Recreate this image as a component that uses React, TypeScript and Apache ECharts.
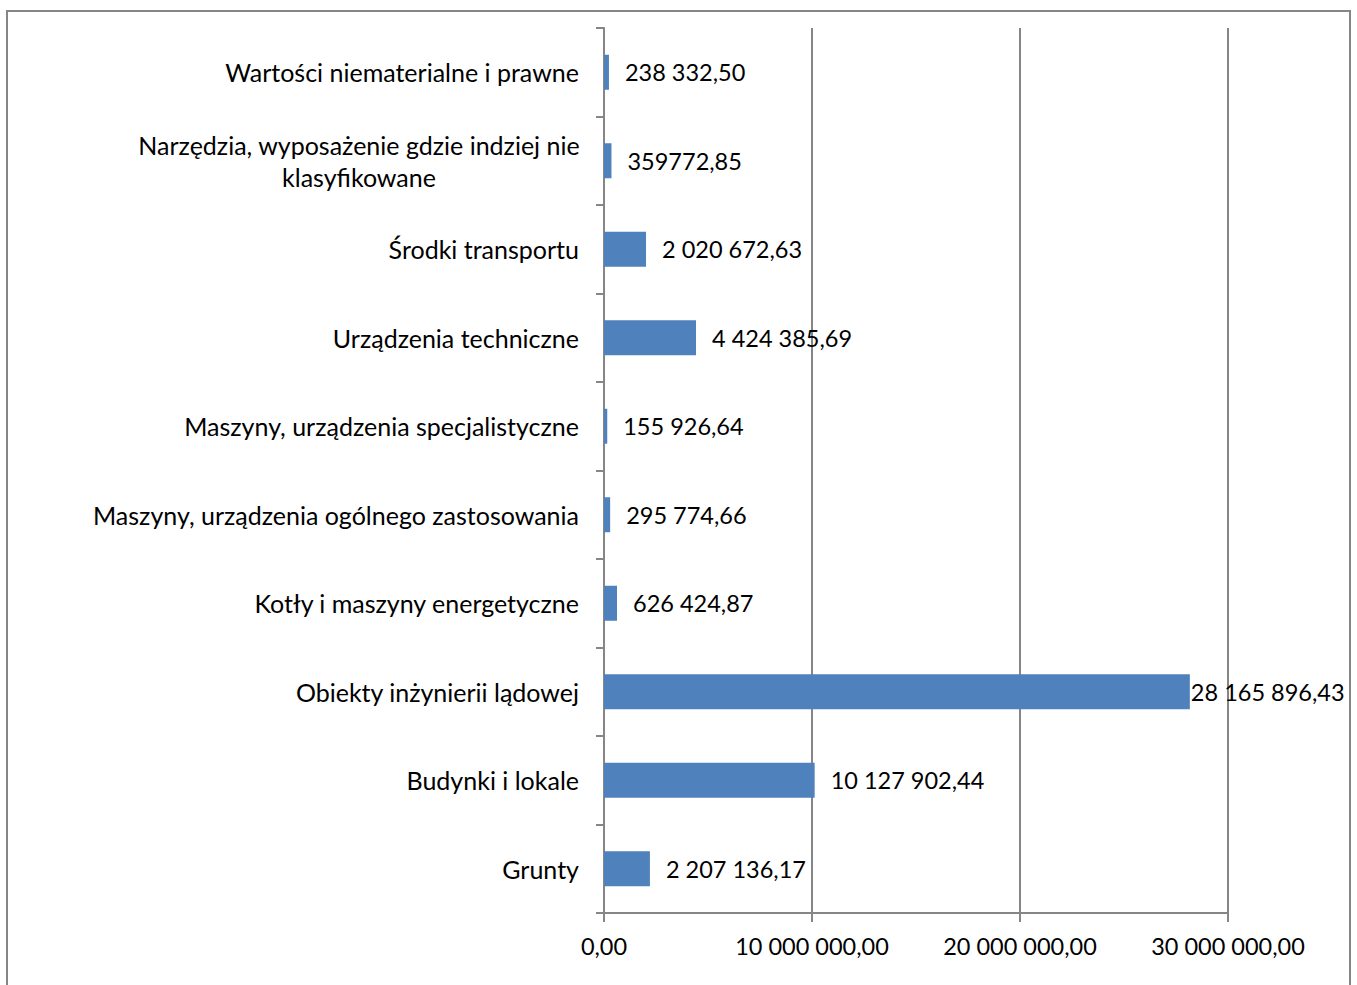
import React, { useEffect, useRef } from "react";
import * as echarts from "echarts";

const categories = [
  "Grunty",
  "Budynki i lokale",
  "Obiekty inżynierii lądowej",
  "Kotły i maszyny energetyczne",
  "Maszyny, urządzenia ogólnego zastosowania",
  "Maszyny, urządzenia specjalistyczne",
  "Urządzenia techniczne",
  "Środki transportu",
  "Narzędzia, wyposażenie gdzie indziej nie\nklasyfikowane",
  "Wartości niematerialne i prawne",
];

const values = [
  2207136.17, 10127902.44, 28165896.43, 626424.87, 295774.66, 155926.64,
  4424385.69, 2020672.63, 359772.85, 238332.5,
];

const valueLabels = [
  "2 207 136,17",
  "10 127 902,44",
  "28 165 896,43",
  "626 424,87",
  "295 774,66",
  "155 926,64",
  "4 424 385,69",
  "2 020 672,63",
  "359772,85",
  "238 332,50",
];

const xTicks = [0, 10000000, 20000000, 30000000];
const xTickLabels = ["0,00", "10 000 000,00", "20 000 000,00", "30 000 000,00"];

const FONT = "Lato, 'Open Sans', sans-serif";
const CAT_SIZE = 25;
const NUM_SIZE = 23.5;

export default function App() {
  const ref = useRef<HTMLDivElement>(null);
  useEffect(() => {
    if (!ref.current) return;
    const chart = echarts.init(ref.current, undefined, { renderer: "svg" });
    const maxV = xTicks[xTicks.length - 1];
    chart.setOption({
      animation: false,
      backgroundColor: "#ffffff",
      textStyle: { fontFamily: FONT },
      graphic: [
        {
          type: "rect",
          shape: { x: 7, y: 11, width: 1343, height: 990 },
          style: { fill: "none", stroke: "#868686", lineWidth: 2 },
          silent: true,
        },
      ],
      grid: { left: 604, right: 129, top: 28, bottom: 72, containLabel: false },
      xAxis: {
        type: "value",
        min: xTicks[0],
        max: maxV,
        interval: xTicks[1] - xTicks[0],
        axisLine: { show: true, lineStyle: { color: "#868686", width: 2 } },
        axisTick: { show: true, length: 9, lineStyle: { color: "#868686", width: 2 } },
        splitLine: { show: true, lineStyle: { color: "#868686", width: 2 } },
        axisLabel: {
          color: "#000",
          fontSize: NUM_SIZE,
          fontFamily: FONT,
          margin: 21,
          formatter: (v: number) => {
            const i = xTicks.indexOf(v);
            return i >= 0 ? xTickLabels[i] : "";
          },
        },
      },
      yAxis: {
        type: "category",
        data: categories,
        axisLine: { show: true, lineStyle: { color: "#868686", width: 2 } },
        axisTick: { show: true, length: 8, lineStyle: { color: "#868686", width: 2 } },
        axisLabel: {
          color: "#000",
          fontSize: CAT_SIZE,
          fontFamily: FONT,
          margin: 25,
          lineHeight: 32,
          formatter: (v: string) =>
            v.indexOf("\n") >= 0
              ? v
                  .split("\n")
                  .map((s) => "{c|" + s + "}")
                  .join("\n")
              : v,
          rich: {
            c: {
              width: 440,
              align: "center",
              fontSize: CAT_SIZE,
              fontFamily: FONT,
              color: "#000",
              lineHeight: 32,
            },
          },
        },
      },
      series: [
        {
          type: "bar",
          data: values.map((v) =>
            v / maxV > 0.9 ? { value: v, label: { distance: 1 } } : v
          ),
          barWidth: 35,
          itemStyle: { color: "#4F81BD" },
          label: {
            show: true,
            position: "right",
            distance: 16,
            color: "#000",
            fontSize: NUM_SIZE,
            fontFamily: FONT,
            formatter: (p: any) => valueLabels[p.dataIndex],
          },
        },
      ],
    });
    return () => chart.dispose();
  }, []);
  return (
    <div
      ref={ref}
      style={{ position: "absolute", left: 0, top: 0, width: 1357, height: 985 }}
    />
  );
}
